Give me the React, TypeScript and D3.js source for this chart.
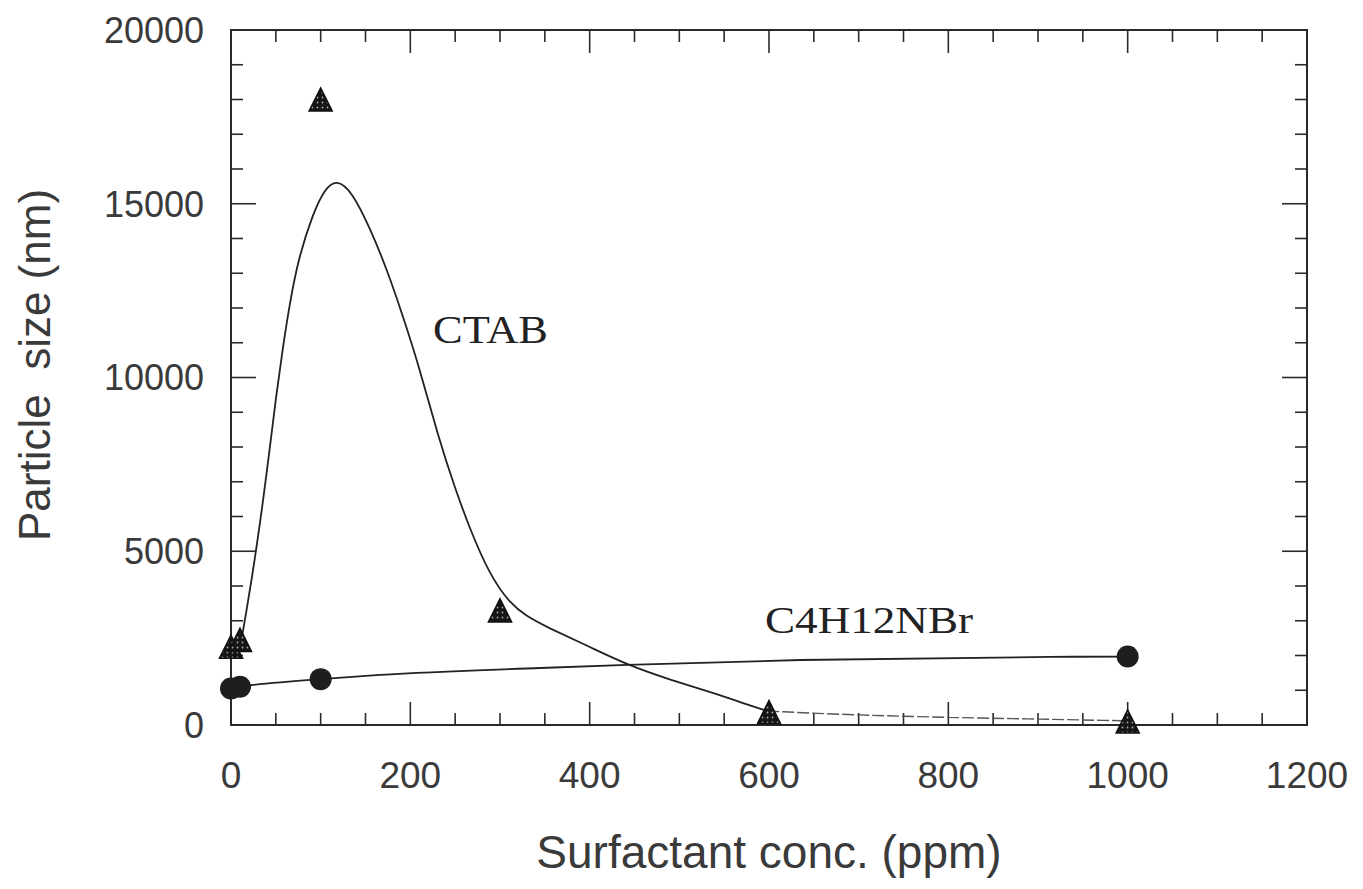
import React from "react";
import * as d3 from "d3";

const xTickValues = [0, 200, 400, 600, 800, 1000, 1200];
const yTickValues = [0, 5000, 10000, 15000, 20000];

// CTAB measured points (triangles)
const ctabX = [0, 10, 100, 300, 600, 1000];
const ctabY = [2250, 2450, 18000, 3300, 370, 100];

// C4H12NBr measured points (circles)
const c4X = [0, 10, 100, 1000];
const c4Y = [1050, 1100, 1320, 1970];

// CTAB fitted curve (solid part)
const ctabCurveX = [12, 16, 23, 33, 43, 50, 58, 66, 75, 91, 105, 118, 135, 155, 174, 190, 210, 231, 250, 267, 289, 311, 330, 352, 400, 442, 490, 538, 570, 598];
const ctabCurveY = [2500, 3100, 4170, 5900, 7900, 9400, 10900, 12200, 13400, 14700, 15450, 15700, 15350, 14300, 13100, 11900, 10300, 8300, 6800, 5600, 4300, 3500, 3120, 2820, 2250, 1730, 1300, 920, 640, 400];
// CTAB fitted curve (dashed tail)
const ctabTailX = [598, 700, 800, 900, 1000];
const ctabTailY = [400, 290, 220, 170, 120];

// C4H12NBr fitted curve
const c4CurveX = [5, 23, 100, 166, 345, 442, 635, 913, 1000];
const c4CurveY = [1100, 1150, 1320, 1440, 1640, 1730, 1870, 1960, 1970];

const W = 1363;
const H = 889;
const L = 231, R = 1307, T = 30, B = 725;

export default function App() {
  const x = d3.scaleLinear().domain([0, 1200]).range([L, R]);
  const y = d3.scaleLinear().domain([0, 20000]).range([B, T]);

  const smooth = d3
    .line<[number, number]>()
    .x((d) => x(d[0]))
    .y((d) => y(d[1]))
    .curve(d3.curveBasis);

  const mono = d3
    .line<[number, number]>()
    .x((d) => x(d[0]))
    .y((d) => y(d[1]))
    .curve(d3.curveMonotoneX);

  const zip = (a: number[], b: number[]) => a.map((v, i) => [v, b[i]] as [number, number]);

  const xMinor = d3.range(0, 1201, 50);
  const yMinor = d3.range(0, 20001, 1000);

  const axisColor = "#2a2a2a";
  const font = "'Liberation Sans', Arial, Helvetica, sans-serif";

  const tri = (cx: number, cy: number, s: number) => {
    const h = s;
    return `M${cx},${cy - h / 2} L${cx + s / 2},${cy + h / 2} L${cx - s / 2},${cy + h / 2} Z`;
  };

  return (
    <svg width={W} height={H} style={{ position: "absolute", left: 0, top: 0, background: "#fff" }}>
      <defs>
        <pattern id="dots" width="5" height="5" patternUnits="userSpaceOnUse">
          <rect width="5" height="5" fill="#161616" />
          <circle cx="2.5" cy="2.5" r="0.9" fill="#a8a8a8" />
        </pattern>
      </defs>

      {/* Frame */}
      <rect x={L} y={T} width={R - L} height={B - T} fill="none" stroke={axisColor} strokeWidth={2} />

      {/* X ticks bottom & top */}
      {xMinor.map((v) => {
        const major = v % 200 === 0;
        const len = major ? 23 : 12;
        return (
          <g key={"xt" + v}>
            <line x1={x(v)} x2={x(v)} y1={B} y2={B - len} stroke={axisColor} strokeWidth={1.6} />
            <line x1={x(v)} x2={x(v)} y1={T} y2={T + len} stroke={axisColor} strokeWidth={1.6} />
          </g>
        );
      })}
      {/* Y ticks left & right */}
      {yMinor.map((v) => {
        const major = v % 5000 === 0;
        const len = major ? 25 : 12;
        return (
          <g key={"yt" + v}>
            <line x1={L} x2={L + len} y1={y(v)} y2={y(v)} stroke={axisColor} strokeWidth={1.6} />
            <line x1={R} x2={R - len} y1={y(v)} y2={y(v)} stroke={axisColor} strokeWidth={1.6} />
          </g>
        );
      })}

      {/* Tick labels */}
      {xTickValues.map((v) => (
        <text key={"xl" + v} x={x(v)} y={788} textAnchor="middle" fontFamily={font} fontSize={37} fill="#3a3a3a">
          {v}
        </text>
      ))}
      {yTickValues.map((v) => (
        <text key={"yl" + v} x={204} y={y(v)} dy="0.36em" textAnchor="end" fontFamily={font} fontSize={36} fill="#3a3a3a">
          {v}
        </text>
      ))}

      {/* Axis titles */}
      <text x={(L + R) / 2} y={868} textAnchor="middle" fontFamily={font} fontSize={46} fill="#3a3a3a">
        Surfactant conc. (ppm)
      </text>
      <text transform={`translate(50,365) rotate(-90)`} textAnchor="middle" fontFamily={font} fontSize={44} fill="#3a3a3a" style={{ whiteSpace: "pre" }}>
        {"Particle  size (nm)"}
      </text>

      {/* Curves */}
      <path d={mono(zip(c4CurveX, c4CurveY)) || ""} fill="none" stroke="#222" strokeWidth={1.8} />
      <path d={smooth(zip(ctabCurveX, ctabCurveY)) || ""} fill="none" stroke="#222" strokeWidth={1.8} />
      <path d={mono(zip(ctabTailX, ctabTailY)) || ""} fill="none" stroke="#555" strokeWidth={1.4} strokeDasharray="12 3" />

      {/* Markers */}
      {c4X.map((v, i) => (
        <circle key={"c" + i} cx={x(v)} cy={y(c4Y[i])} r={11} fill="#1e1e1e" />
      ))}
      {ctabX.map((v, i) => (
        <path key={"t" + i} d={tri(x(v), y(ctabY[i]), 23)} fill="url(#dots)" stroke="#111" strokeWidth={1.6} strokeLinejoin="miter" />
      ))}

      {/* Series labels */}
      <text x={433} y={343} fontFamily="'Liberation Serif', 'Times New Roman', serif" fontSize={39} fill="#222" textLength={115} lengthAdjust="spacingAndGlyphs">
        CTAB
      </text>
      <text x={765} y={633} fontFamily="'Liberation Serif', 'Times New Roman', serif" fontSize={37} fill="#222" textLength={208} lengthAdjust="spacingAndGlyphs">
        C4H12NBr
      </text>
    </svg>
  );
}
